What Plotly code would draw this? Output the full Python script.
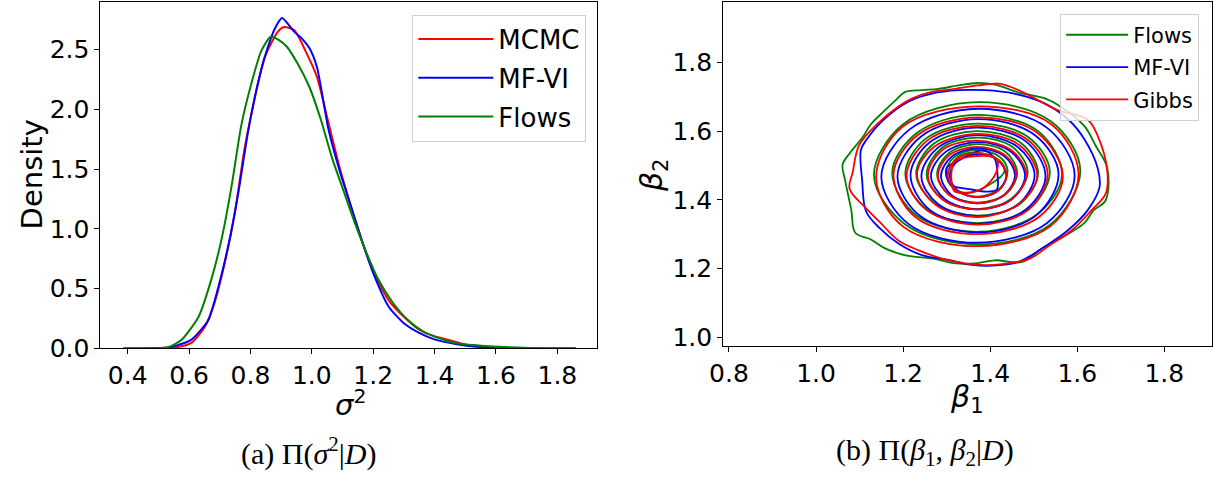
import plotly.graph_objects as go

W, H = 1214, 499

# ---------------- data: left panel (posterior density of sigma^2) ----------------
mcmc_x = [0.39, 0.48, 0.53, 0.556, 0.609, 0.652, 0.685, 0.717, 0.749, 0.781, 0.813, 0.846, 0.889, 0.910,
          0.943, 0.980, 1.017, 1.054, 1.091, 1.128, 1.165, 1.202, 1.251, 1.300, 1.350, 1.399, 1.449, 1.498,
          1.572, 1.695, 1.86]
mcmc_y = [0.0, 0.001, 0.003, 0.008, 0.049, 0.184, 0.401, 0.726, 1.133, 1.675, 2.082, 2.434, 2.65, 2.69,
          2.662, 2.486, 2.27, 1.89, 1.511, 1.186, 0.888, 0.631, 0.401, 0.265, 0.157, 0.103, 0.070, 0.035,
          0.014, 0.003, 0.0]

mfvi_x = [0.385, 0.47, 0.52, 0.556, 0.609, 0.663, 0.695, 0.728, 0.760, 0.792, 0.824, 0.856, 0.880, 0.903,
          0.943, 0.967, 0.992, 1.017, 1.054, 1.091, 1.128, 1.165, 1.202, 1.251, 1.300, 1.350, 1.399, 1.473,
          1.535, 1.634, 1.86]
mfvi_y = [0.0, 0.001, 0.004, 0.022, 0.076, 0.239, 0.51, 0.862, 1.295, 1.81, 2.217, 2.515, 2.68, 2.765,
          2.649, 2.595, 2.514, 2.351, 1.836, 1.484, 1.186, 0.888, 0.618, 0.347, 0.211, 0.130, 0.076, 0.035,
          0.014, 0.003, 0.0]

flows_x = [0.385, 0.45, 0.50, 0.534, 0.577, 0.631, 0.674, 0.706, 0.738, 0.770, 0.803, 0.835, 0.866, 0.893,
           0.918, 0.955, 0.992, 1.029, 1.066, 1.103, 1.140, 1.177, 1.214, 1.263, 1.313, 1.362, 1.412, 1.473,
           1.535, 1.609, 1.732, 1.86]
flows_y = [0.0, 0.001, 0.003, 0.012, 0.076, 0.266, 0.591, 0.916, 1.35, 1.865, 2.217, 2.488, 2.608, 2.581,
           2.527, 2.378, 2.188, 1.918, 1.593, 1.322, 1.051, 0.807, 0.59, 0.387, 0.238, 0.144, 0.089, 0.043,
           0.027, 0.014, 0.003, 0.0]

# ---------------- data: right panel (KDE contour rings of beta1, beta2) ----------------
flows_rings = [
    [(1.061, 1.502), (1.077, 1.535), (1.107, 1.582), (1.126, 1.620), (1.152, 1.653), (1.183, 1.690),
     (1.205, 1.714), (1.243, 1.719), (1.281, 1.723), (1.327, 1.733), (1.372, 1.740), (1.411, 1.735),
     (1.464, 1.713), (1.526, 1.695), (1.562, 1.671), (1.616, 1.615), (1.642, 1.558), (1.669, 1.492),
     (1.665, 1.398), (1.638, 1.370), (1.616, 1.332), (1.571, 1.295), (1.517, 1.257), (1.473, 1.219),
     (1.411, 1.224), (1.366, 1.215), (1.321, 1.215), (1.268, 1.229), (1.206, 1.238), (1.161, 1.257),
     (1.125, 1.285), (1.090, 1.304), (1.081, 1.370), (1.067, 1.455)],
    [(1.607, 1.485), (1.540, 1.628), (1.372, 1.684), (1.200, 1.620), (1.133, 1.470), (1.205, 1.328),
     (1.368, 1.270), (1.535, 1.325)],
    [(1.565, 1.472), (1.510, 1.600), (1.365, 1.647), (1.232, 1.595), (1.175, 1.480), (1.230, 1.355),
     (1.375, 1.307), (1.508, 1.358)],
    [(1.537, 1.482), (1.488, 1.582), (1.372, 1.622), (1.252, 1.578), (1.205, 1.475), (1.255, 1.372),
     (1.370, 1.332), (1.490, 1.375)],
    [(1.510, 1.478), (1.470, 1.566), (1.368, 1.600), (1.270, 1.563), (1.230, 1.476), (1.272, 1.390),
     (1.372, 1.354), (1.468, 1.388)],
    [(1.486, 1.480), (1.452, 1.553), (1.370, 1.581), (1.288, 1.550), (1.254, 1.474), (1.290, 1.402),
     (1.372, 1.373), (1.450, 1.405)],
    [(1.462, 1.478), (1.435, 1.540), (1.370, 1.562), (1.305, 1.536), (1.278, 1.475), (1.305, 1.415),
     (1.372, 1.392), (1.437, 1.418)],
    [(1.440, 1.485), (1.420, 1.527), (1.368, 1.545), (1.318, 1.525), (1.298, 1.478), (1.320, 1.430),
     (1.370, 1.409), (1.422, 1.433)],
    [(1.433, 1.483), (1.425, 1.510), (1.383, 1.535), (1.330, 1.528), (1.302, 1.473), (1.311, 1.440),
     (1.346, 1.419), (1.400, 1.445)],
]

mfvi_rings = [
    [(1.106, 1.455), (1.103, 1.545), (1.115, 1.573), (1.152, 1.629), (1.213, 1.686), (1.266, 1.709),
     (1.327, 1.719), (1.387, 1.719), (1.455, 1.709), (1.526, 1.680), (1.580, 1.633), (1.616, 1.577),
     (1.647, 1.492), (1.651, 1.436), (1.624, 1.370), (1.580, 1.313), (1.517, 1.257), (1.464, 1.219),
     (1.393, 1.208), (1.348, 1.212), (1.304, 1.225), (1.243, 1.239), (1.190, 1.272), (1.145, 1.319),
     (1.115, 1.366)],
    [(1.594, 1.470), (1.530, 1.610), (1.372, 1.665), (1.215, 1.605), (1.150, 1.468), (1.212, 1.330),
     (1.370, 1.275), (1.530, 1.332)],
    [(1.557, 1.475), (1.503, 1.588), (1.372, 1.635), (1.242, 1.585), (1.187, 1.468), (1.240, 1.352),
     (1.374, 1.305), (1.505, 1.354)],
    [(1.527, 1.468), (1.482, 1.570), (1.370, 1.610), (1.262, 1.568), (1.217, 1.472), (1.262, 1.370),
     (1.374, 1.330), (1.482, 1.372)],
    [(1.502, 1.472), (1.464, 1.553), (1.372, 1.588), (1.280, 1.552), (1.242, 1.468), (1.280, 1.388),
     (1.372, 1.352), (1.464, 1.387)],
    [(1.480, 1.470), (1.448, 1.540), (1.372, 1.568), (1.296, 1.538), (1.264, 1.470), (1.296, 1.402),
     (1.372, 1.372), (1.448, 1.400)],
    [(1.457, 1.472), (1.432, 1.527), (1.372, 1.550), (1.312, 1.526), (1.287, 1.470), (1.312, 1.413),
     (1.372, 1.390), (1.432, 1.414)],
    [(1.437, 1.470), (1.418, 1.515), (1.372, 1.532), (1.326, 1.514), (1.307, 1.470), (1.326, 1.426),
     (1.372, 1.408), (1.418, 1.426)],
    [(1.417, 1.470), (1.410, 1.520), (1.383, 1.544), (1.323, 1.511), (1.300, 1.492), (1.308, 1.445),
     (1.353, 1.431), (1.390, 1.424), (1.415, 1.430)],
]

gibbs_rings = [
    [(1.077, 1.432), (1.084, 1.479), (1.099, 1.559), (1.140, 1.620), (1.190, 1.672), (1.221, 1.695),
     (1.266, 1.714), (1.319, 1.723), (1.372, 1.733), (1.418, 1.738), (1.446, 1.729), (1.482, 1.709),
     (1.553, 1.662), (1.624, 1.633), (1.647, 1.586), (1.669, 1.483), (1.665, 1.417), (1.633, 1.370),
     (1.589, 1.313), (1.535, 1.266), (1.491, 1.229), (1.428, 1.213), (1.387, 1.210), (1.342, 1.215),
     (1.289, 1.229), (1.236, 1.253), (1.190, 1.281), (1.145, 1.337), (1.115, 1.375)],
    [(1.603, 1.475), (1.540, 1.620), (1.370, 1.672), (1.198, 1.612), (1.138, 1.465), (1.200, 1.322),
     (1.372, 1.265), (1.540, 1.325)],
    [(1.567, 1.468), (1.508, 1.595), (1.372, 1.640), (1.235, 1.590), (1.178, 1.475), (1.228, 1.350),
     (1.368, 1.300), (1.512, 1.350)],
    [(1.532, 1.475), (1.486, 1.575), (1.370, 1.615), (1.256, 1.573), (1.208, 1.470), (1.254, 1.370),
     (1.372, 1.328), (1.487, 1.370)],
    [(1.508, 1.470), (1.468, 1.558), (1.372, 1.592), (1.272, 1.555), (1.232, 1.475), (1.274, 1.386),
     (1.370, 1.350), (1.466, 1.388)],
    [(1.483, 1.472), (1.450, 1.543), (1.370, 1.572), (1.290, 1.545), (1.257, 1.470), (1.291, 1.400),
     (1.372, 1.372), (1.450, 1.402)],
    [(1.460, 1.475), (1.434, 1.530), (1.370, 1.554), (1.306, 1.530), (1.280, 1.470), (1.306, 1.414),
     (1.370, 1.390), (1.434, 1.415)],
    [(1.438, 1.472), (1.418, 1.517), (1.368, 1.536), (1.322, 1.518), (1.302, 1.472), (1.322, 1.428),
     (1.372, 1.408), (1.420, 1.428)],
    [(1.414, 1.480), (1.414, 1.520), (1.350, 1.525), (1.318, 1.510), (1.311, 1.454), (1.318, 1.425),
     (1.346, 1.421), (1.382, 1.432)],
]

left_xticks = [0.4, 0.6, 0.8, 1.0, 1.2, 1.4, 1.6, 1.8]
left_yticks = [0.0, 0.5, 1.0, 1.5, 2.0, 2.5]
right_xticks = [0.8, 1.0, 1.2, 1.4, 1.6, 1.8]
right_yticks = [1.0, 1.2, 1.4, 1.6, 1.8]

RED, BLUE, GREEN = "#ff0000", "#0000ff", "#008000"
FONT = "DejaVu Sans"
SERIF = "Liberation Serif"


def px_x(p):
    return p / W


def px_y(p):
    return 1 - p / H


fig = go.Figure()

# left panel
for name, xs, ys, col in [("MCMC", mcmc_x, mcmc_y, RED),
                          ("MF-VI", mfvi_x, mfvi_y, BLUE),
                          ("Flows", flows_x, flows_y, GREEN)]:
    fig.add_trace(go.Scatter(x=xs, y=ys, mode="lines", name=name,
                             line=dict(color=col, width=2, shape="spline", smoothing=0.6),
                             xaxis="x", yaxis="y", legend="legend", legendgroup="L" + name))

# right panel
for name, rings, col in [("Flows", flows_rings, GREEN),
                         ("MF-VI", mfvi_rings, BLUE),
                         ("Gibbs", gibbs_rings, RED)]:
    for i, ring in enumerate(rings):
        xs = [p[0] for p in ring] + [ring[0][0]]
        ys = [p[1] for p in ring] + [ring[0][1]]
        fig.add_trace(go.Scatter(x=xs, y=ys, mode="lines", name=name,
                                 line=dict(color=col, width=1.8, shape="spline", smoothing=1.0),
                                 xaxis="x2", yaxis="y2", legend="legend2",
                                 legendgroup="R" + name, showlegend=(i == 0)))

axis_common = dict(showline=True, linecolor="black", linewidth=1, mirror=True,
                   ticks="outside", ticklen=5, tickwidth=1, tickcolor="black",
                   showgrid=False, zeroline=False,
                   tickfont=dict(family=FONT, size=25, color="black"))

fig.update_layout(
    width=W, height=H,
    margin=dict(l=0, r=0, t=0, b=0),
    paper_bgcolor="white", plot_bgcolor="white",
    showlegend=True,
    xaxis=dict(domain=[px_x(87.5), px_x(589.3)], range=[0.3114, 1.9275],
               tickvals=left_xticks, tickformat=".1f", anchor="y", **axis_common),
    yaxis=dict(domain=[px_y(359.3), px_y(2.2)], range=[0, 2.898],
               tickvals=left_yticks, tickformat=".1f", anchor="x", **axis_common),
    xaxis2=dict(domain=[px_x(717.5), px_x(1211.5)], range=[0.7868, 1.9084],
                tickvals=right_xticks, tickformat=".1f", anchor="y2", **axis_common),
    yaxis2=dict(domain=[px_y(356.7), px_y(1.7)], range=[0.9746, 1.9767],
                tickvals=right_yticks, tickformat=".1f", anchor="x2", **axis_common),
    legend=dict(x=px_x(579), y=px_y(15), xanchor="right", yanchor="top",
                bgcolor="rgba(255,255,255,0.8)", bordercolor="#d0d0d0", borderwidth=1,
                font=dict(family=FONT, size=26, color="black"),
                tracegroupgap=2, itemwidth=75, traceorder="grouped"),
    legend2=dict(x=px_x(1199), y=px_y(14), xanchor="right", yanchor="top",
                 bgcolor="rgba(255,255,255,0.8)", bordercolor="#d0d0d0", borderwidth=1,
                 font=dict(family=FONT, size=21, color="black"),
                 tracegroupgap=2, itemwidth=62, traceorder="grouped"),
)

ann = [
    dict(text="Density", x=px_x(18), y=px_y(180), textangle=-90,
         font=dict(family=FONT, size=29, color="black")),
    dict(text="<i>σ</i><sup>2</sup>", x=px_x(340), y=px_y(416),
         font=dict(family=FONT, size=29, color="black")),
    dict(text="<i>β</i><sub>2</sub>", x=px_x(647), y=px_y(181), textangle=-90,
         font=dict(family=FONT, size=30, color="black")),
    dict(text="<i>β</i><sub>1</sub>", x=px_x(964), y=px_y(411),
         font=dict(family=FONT, size=30, color="black")),
    dict(text="(a) Π(<i>σ</i><sup>2</sup>|<i>D</i>)", x=px_x(298), y=px_y(466),
         font=dict(family=SERIF, size=30, color="black")),
    dict(text="(b) Π(<i>β</i><sub>1</sub>, <i>β</i><sub>2</sub>|<i>D</i>)", x=px_x(922), y=px_y(466),
         font=dict(family=SERIF, size=30, color="black")),
]
for a in ann:
    a.update(xref="paper", yref="paper", showarrow=False, xanchor="center", yanchor="middle")
fig.update_layout(annotations=ann)

fig.write_html("out.html", post_script="document.body.style.margin='0';")
